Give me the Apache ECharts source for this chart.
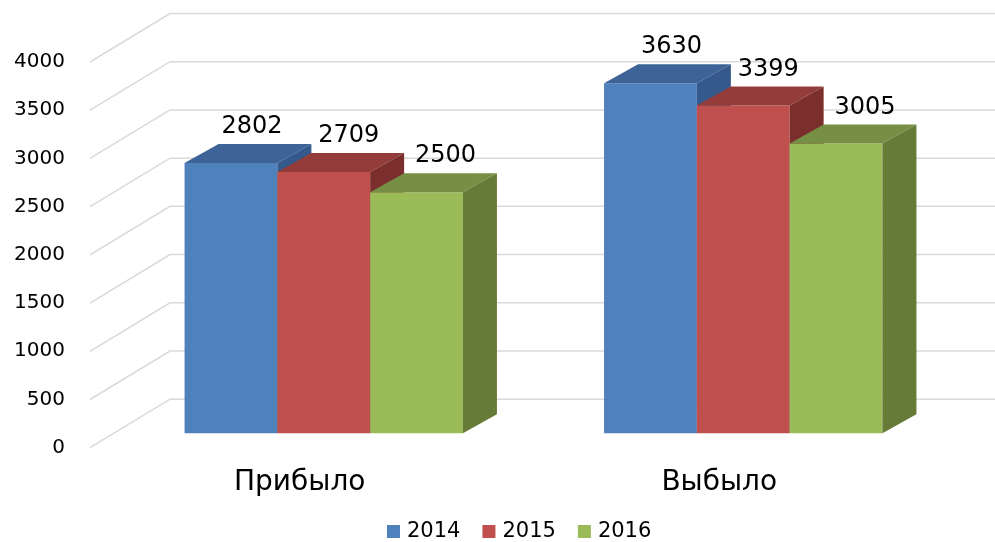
<!DOCTYPE html>
<html>
<head>
<meta charset="utf-8">
<script src="https://cdn.jsdelivr.net/npm/echarts@6/dist/echarts.min.js"></script>
<style>
  html, body { margin: 0; padding: 0; background: #fff; }
  #chart { width: 995px; height: 542px; }
</style>
</head>
<body>
<div id="chart"></div>
<script>
const categories = ['Прибыло', 'Выбыло']
const years = ['2014', '2015', '2016']
const values2014 = [2802, 3630]
const values2015 = [2709, 3399]
const values2016 = [2500, 3005]
const yTicks = [0, 500, 1000, 1500, 2000, 2500, 3000, 3500, 4000]

// front / top / side colours per year
const shades = [
  ['#4F81BD', '#3E6497', '#34598A'],
  ['#C0504D', '#933C3A', '#7B2F2D'],
  ['#9BBB59', '#778F44', '#677B38']
]

const wallDx = 80, wallDy = -48.5   // depth of the whole box
const barOffX = 24, barOffY = -14.5 // bar front plane
const depthX = 34, depthY = -19     // bar depth
const font = 'DejaVu Sans'

const myChart = echarts.init(document.getElementById('chart'))

function wallItem(params, api) {
  const cs = params.coordSys
  const y = api.coord([0, api.value(0)])[1]
  return {
    type: 'polyline',
    shape: {
      points: [
        [cs.x, y],
        [cs.x + wallDx, y + wallDy],
        [cs.x + cs.width + wallDx, y + wallDy]
      ]
    },
    style: { stroke: '#D9D9D9', lineWidth: 1.5, fill: null }
  }
}

function barRenderer(idx) {
  return function (params, api) {
    const c = api.value(0)
    const v = api.value(1)
    const top = api.coord([c, v])
    const base = api.coord([c, 0])
    const band = api.size([1, 0])[0]
    const w = band * 0.2212
    const x0 = top[0] - w * 1.5 + idx * w + barOffX
    const x1 = x0 + w
    const yT = top[1] + barOffY
    const yB = base[1] + barOffY
    const col = shades[idx]
    return {
      type: 'group',
      children: [
        { type: 'rect', shape: { x: x0, y: yT, width: w, height: yB - yT }, style: { fill: col[0] } },
        {
          type: 'polygon',
          shape: { points: [[x0, yT], [x1, yT], [x1 + depthX, yT + depthY], [x0 + depthX, yT + depthY]] },
          style: { fill: col[1] }
        },
        {
          type: 'polygon',
          shape: { points: [[x1, yT], [x1 + depthX, yT + depthY], [x1 + depthX, yB + depthY], [x1, yB]] },
          style: { fill: col[2] }
        },
        {
          type: 'text',
          style: {
            text: String(v),
            x: x0 + w / 2 + 21 + idx * 4,
            y: yT + depthY - 17,
            align: 'center',
            verticalAlign: 'middle',
            font: '24px "' + font + '"',
            fill: '#000'
          }
        }
      ]
    }
  }
}

const barData = [values2014, values2015, values2016]

myChart.setOption({
  animation: false,
  grid: { left: 90, right: 66, top: 62, bottom: 94.3 },
  legend: {
    bottom: -5,
    left: 382,
    icon: 'rect',
    itemWidth: 13,
    itemHeight: 13,
    itemGap: 22,
    textStyle: { fontFamily: font, fontSize: 21, color: '#000', padding: [0, 0, 0, 2] },
    data: years
  },
  xAxis: {
    type: 'category',
    data: categories,
    axisLine: { show: false },
    axisTick: { show: false },
    axisLabel: { fontFamily: font, fontSize: 28, color: '#000', margin: 21 }
  },
  yAxis: {
    type: 'value',
    min: 0,
    max: 4000,
    interval: 500,
    splitLine: { show: false },
    axisLine: { show: false },
    axisTick: { show: false },
    axisLabel: {
      fontFamily: font, fontSize: 20, color: '#000', margin: 25,
      formatter: v => String(v)
    }
  },
  series: [
    {
      type: 'custom',
      name: 'walls',
      renderItem: wallItem,
      data: yTicks.map(t => [t]),
      encode: { y: 0 },
      silent: true
    }
  ].concat(years.map((y, i) => ({
    type: 'custom',
    name: y,
    itemStyle: { color: shades[i][0] },
    renderItem: barRenderer(i),
    data: barData[i].map((v, c) => [c, v]),
    encode: { x: 0, y: 1 }
  })))
})
</script>
</body>
</html>
